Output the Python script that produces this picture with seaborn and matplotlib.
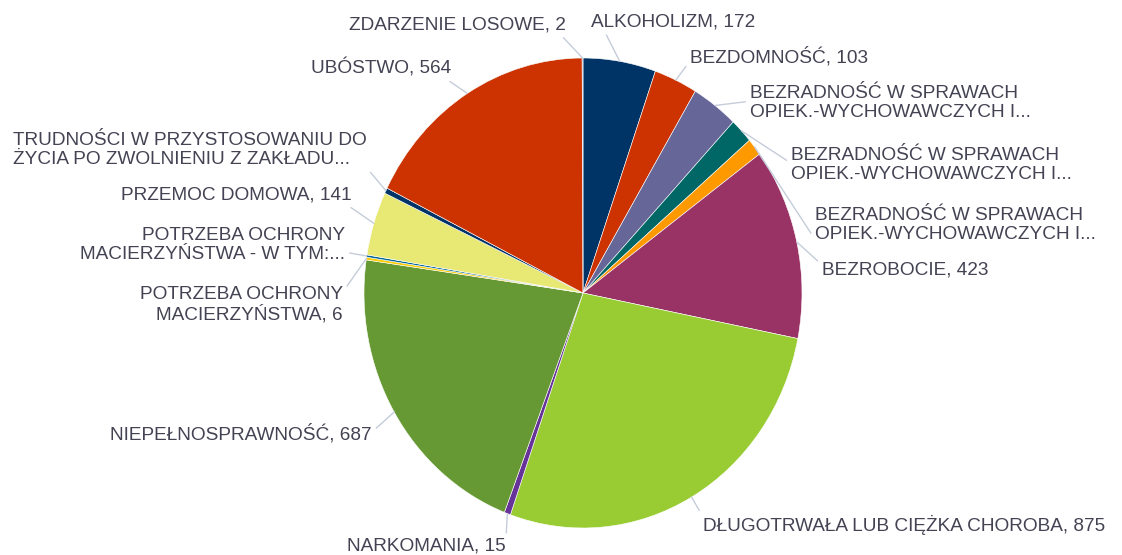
import matplotlib
matplotlib.use("Agg")
import matplotlib.pyplot as plt
import seaborn as sns
import numpy as np

# categories in the order they go round the pie (clockwise from 12 o'clock)
categories = [
    "ALKOHOLIZM",
    "BEZDOMNOŚĆ",
    "BEZRADNOŚĆ W SPRAWACH\nOPIEK.-WYCHOWAWCZYCH I...",
    "BEZRADNOŚĆ W SPRAWACH\nOPIEK.-WYCHOWAWCZYCH I...",
    "BEZRADNOŚĆ W SPRAWACH\nOPIEK.-WYCHOWAWCZYCH I...",
    "BEZROBOCIE",
    "DŁUGOTRWAŁA LUB CIĘŻKA CHOROBA",
    "NARKOMANIA",
    "NIEPEŁNOSPRAWNOŚĆ",
    "POTRZEBA OCHRONY\nMACIERZYŃSTWA",
    "POTRZEBA OCHRONY\nMACIERZYŃSTWA - W TYM:...",
    "PRZEMOC DOMOWA",
    "TRUDNOŚCI W PRZYSTOSOWANIU DO\nŻYCIA PO ZWOLNIENIU Z ZAKŁADU...",
    "UBÓSTWO",
    "ZDARZENIE LOSOWE",
]
values = [172, 103, 111, 55, 38, 423, 875, 15, 687, 6, 5, 141, 12, 564, 2]
show_value = [True, True, False, False, False, True, True, True, True,
              True, False, True, False, True, True]

colors = ["#003366", "#CC3300", "#666699", "#006666", "#FF9900", "#993366",
          "#99CC33", "#663399", "#669933", "#FFCC00", "#006699", "#E8E874",
          "#003366", "#CC3300", "#666699"]

# label layout in pixels: (x, y, ha, relpos of leader on the text)
label_layout = [
    (591, 22, "left", (0.08, 0.0)),
    (690, 57, "left", (0.0, 0.3)),
    (750, 103, "left", (0.0, 0.55)),
    (791, 165, "left", (0.0, 0.55)),
    (815, 225, "left", (0.0, 0.1)),
    (822, 270, "left", (0.0, 0.8)),
    (703, 525, "left", (0.0, 0.9)),
    (506, 546, "right", (1.0, 1.0)),
    (372, 434, "right", (1.0, 0.6)),
    (343, 305, "right", (1.0, 0.85)),
    (345, 245, "right", (1.0, 0.3)),
    (352, 195, "right", (0.97, 0.0)),
    (13, 150, "left", (1.0, 0.0)),
    (451, 68, "right", (0.95, 0.0)),
    (566, 25, "right", (0.97, 0.0)),
]

W, H = 1122, 555
CX, CY, RX, RY = 583, 293, 219, 235   # pie centre and radii in pixels


def to_data(px, py):
    return (px - CX) / RX, (CY - py) / RY


sns.set_theme(style="white")
plt.rcParams["font.family"] = ["Liberation Sans", "DejaVu Sans"]

fig = plt.figure(figsize=(W / 100, H / 100), dpi=100)
ax = fig.add_axes([0, 0, 1, 1])

palette = sns.color_palette(colors)
wedges, _ = ax.pie(values, colors=palette, startangle=90, counterclock=False,
                   radius=1.0, wedgeprops=dict(edgecolor="white", linewidth=0.4))

ax.set_aspect("auto")
ax.set_xlim((0 - CX) / RX, (W - CX) / RX)
ax.set_ylim((CY - H) / RY, CY / RY)
ax.axis("off")

for w, cat, val, show, (lx, ly, ha, rel) in zip(wedges, categories, values,
                                                show_value, label_layout):
    mid = np.deg2rad((w.theta1 + w.theta2) / 2)
    edge = (np.cos(mid), np.sin(mid))
    text = f"{cat}, {val}" if show else cat
    ax.annotate(text, xy=edge, xytext=to_data(lx, ly), ha=ha, va="center",
                multialignment=ha, fontsize=13.7, color="#434353",
                linespacing=1.15,
                arrowprops=dict(arrowstyle="-", color="#C5CCDA", lw=1.0,
                                shrinkA=1, shrinkB=0, relpos=rel))

fig.savefig("out.png", dpi=100)
